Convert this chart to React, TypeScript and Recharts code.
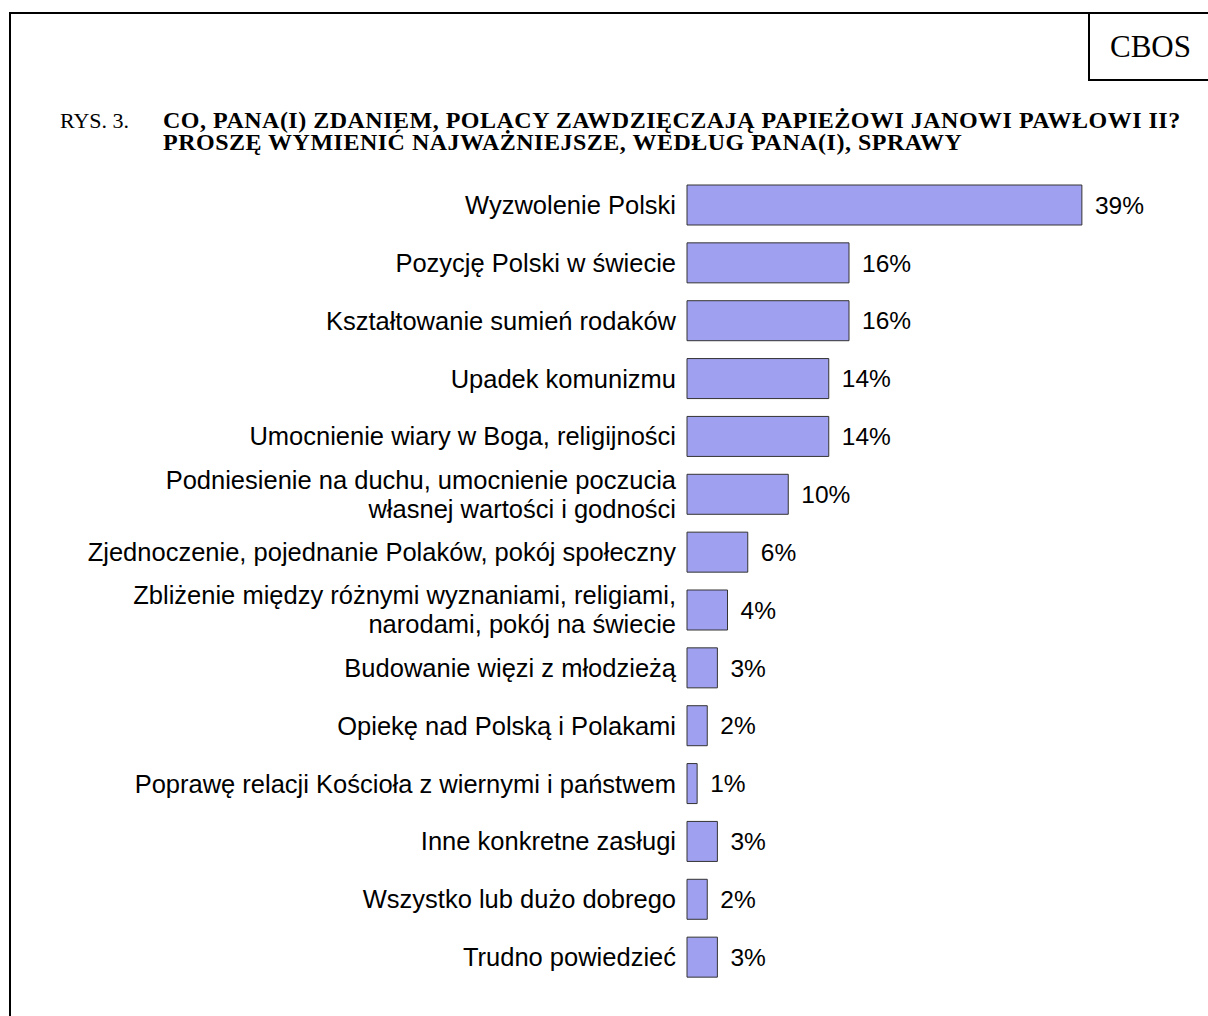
import React from 'react';
import { BarChart, Bar, XAxis, YAxis, LabelList } from 'recharts';

const categories: string[] = [
    'Wyzwolenie Polski',
    'Pozycję Polski w świecie',
    'Kształtowanie sumień rodaków',
    'Upadek komunizmu',
    'Umocnienie wiary w Boga, religijności',
    'Podniesienie na duchu, umocnienie poczucia\nwłasnej wartości i godności',
    'Zjednoczenie, pojednanie Polaków, pokój społeczny',
    'Zbliżenie między różnymi wyznaniami, religiami,\nnarodami, pokój na świecie',
    'Budowanie więzi z młodzieżą',
    'Opiekę nad Polską i Polakami',
    'Poprawę relacji Kościoła z wiernymi i państwem',
    'Inne konkretne zasługi',
    'Wszystko lub dużo dobrego',
    'Trudno powiedzieć'
];

const values: number[] = [39, 16, 16, 14, 14, 10, 6, 4, 3, 2, 1, 3, 2, 3];

const titleLines: string[] = [
    'CO, PANA(I) ZDANIEM, POLACY ZAWDZIĘCZAJĄ PAPIEŻOWI JANOWI PAWŁOWI II?',
    'PROSZĘ WYMIENIĆ NAJWAŻNIEJSZE, WEDŁUG PANA(I), SPRAWY'
];

const data = categories.map((name, i) => ({ name, value: values[i] }));

const labelFont = '"Liberation Sans", Arial, sans-serif';
const serifFont = '"Liberation Serif", "Times New Roman", serif';

// multi-line category labels, right aligned next to the bars
const CategoryTick = (props: any) => {
    const { x, y, payload } = props;
    const lines = String(payload.value).split('\n');
    const lineH = 29;
    const start = -((lines.length - 1) * lineH) / 2;
    return (
        <text
            x={x}
            y={y}
            textAnchor="end"
            fontFamily={labelFont}
            fontSize={25.5}
            fill="#000"
        >
            {lines.map((line, i) => (
                <tspan key={i} x={x} dy={i === 0 ? start : lineH} dominantBaseline="central">
                    {line}
                </tspan>
            ))}
        </text>
    );
};

export default function App() {
    return (
        <div style={{
            position: 'fixed',
            top: 0,
            left: 0,
            width: 1208,
            height: 1016,
            overflow: 'hidden',
            background: '#fff'
        }}>
            {/* frame */}
            <div style={{
                position: 'absolute',
                left: 9,
                top: 12,
                width: 1300,
                height: 1100,
                border: '2px solid #000'
            }} />
            {/* CBOS box */}
            <div style={{
                position: 'absolute',
                left: 1088,
                top: 12,
                width: 200,
                height: 65,
                border: '2px solid #000',
                fontFamily: serifFont,
                fontSize: 31,
                lineHeight: '65px',
                paddingLeft: 20,
                boxSizing: 'content-box'
            }}>
                CBOS
            </div>
            {/* title */}
            <div style={{
                position: 'absolute',
                left: 60,
                top: 109,
                fontFamily: serifFont,
                fontSize: 22,
                lineHeight: '22px',
                display: 'flex'
            }}>
                <div style={{ width: 103, marginTop: 1 }}>RYS. 3.</div>
                <div style={{ fontWeight: 'bold', fontSize: 24, letterSpacing: '0.5px' }}>
                    {titleLines.map((t, i) => (
                        <div key={i} style={{ whiteSpace: 'nowrap' }}>{t}</div>
                    ))}
                </div>
            </div>

            <div style={{ position: 'absolute', left: 0, top: 0 }}>
                <BarChart
                    width={1208}
                    height={1016}
                    data={data}
                    layout="vertical"
                    margin={{ top: 176, right: 116, bottom: 30, left: 0 }}
                    barCategoryGap={18}
                >
                    <XAxis type="number" domain={[0, 40]} hide />
                    <YAxis
                        type="category"
                        dataKey="name"
                        width={687}
                        axisLine={false}
                        tickLine={false}
                        tickSize={0}
                        tickMargin={11}
                        interval={0}
                        tick={<CategoryTick />}
                    />
                    <Bar
                        dataKey="value"
                        fill="#a0a0f0"
                        stroke="#333"
                        strokeWidth={1}
                        barSize={40}
                        isAnimationActive={false}
                    >
                        <LabelList
                            dataKey="value"
                            position="right"
                            offset={13}
                            formatter={(v: any) => `${v}%`}
                            fill="#000"
                            fontSize={24.5}
                            fontFamily={labelFont}
                        />
                    </Bar>
                </BarChart>
            </div>
        </div>
    );
}
